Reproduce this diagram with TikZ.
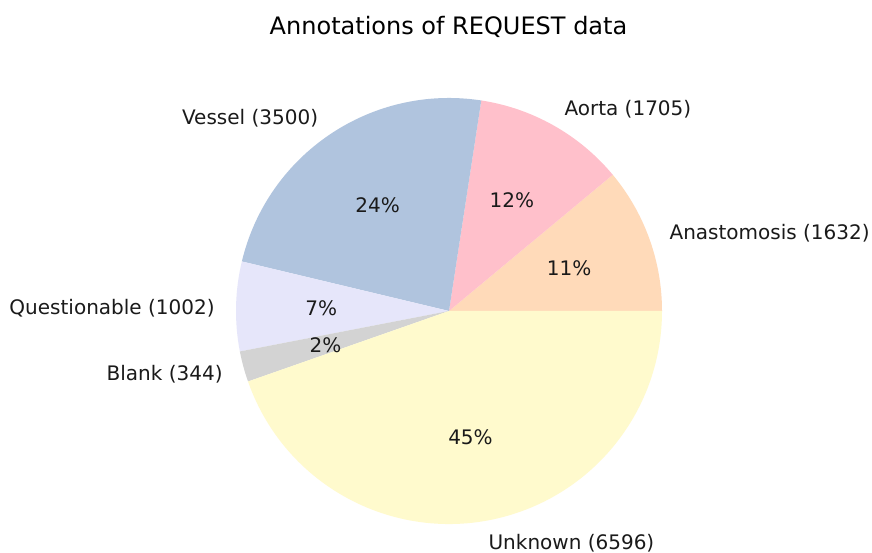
\documentclass[tikz,border=0pt]{standalone}
\usepackage{fontspec}
\setmainfont{DejaVu Sans}
\definecolor{cAna}{HTML}{FFDAB9}
\definecolor{cAor}{HTML}{FFC0CB}
\definecolor{cVes}{HTML}{B0C4DE}
\definecolor{cQue}{HTML}{E6E6FA}
\definecolor{cBla}{HTML}{D3D3D3}
\definecolor{cUnk}{HTML}{FFFACD}
\definecolor{txt}{HTML}{1A1A1A}
\tikzset{
  lbl/.style={inner sep=0pt, text=txt, font=\fontsize{20}{24}\selectfont},
  pct/.style={inner sep=0pt, text=txt, font=\fontsize{20}{24}\selectfont},
  ttl/.style={inner sep=0pt, text=black, font=\fontsize{24}{28}\selectfont}
}
\begin{document}
\begin{tikzpicture}[x=1pt,y=1pt]
\useasboundingbox (0,0) rectangle (872,553);
\fill[white] (0,0) rectangle (872,553);
\coordinate (c) at (449,242);
\def\R{213}
\fill[cAna] (c) -- ++(0:\R) arc[start angle=0, end angle=39.754, radius=\R] -- cycle;
\fill[cAor] (c) -- ++(39.754:\R) arc[start angle=39.754, end angle=81.286, radius=\R] -- cycle;
\fill[cVes] (c) -- ++(81.286:\R) arc[start angle=81.286, end angle=166.542, radius=\R] -- cycle;
\fill[cQue] (c) -- ++(166.542:\R) arc[start angle=166.542, end angle=190.950, radius=\R] -- cycle;
\fill[cBla] (c) -- ++(190.950:\R) arc[start angle=190.950, end angle=199.329, radius=\R] -- cycle;
\fill[cUnk] (c) -- ++(199.329:\R) arc[start angle=199.329, end angle=360, radius=\R] -- cycle;
% labels
\node[lbl, anchor=west] (lAna) at (669.4,319.6) {Anastomosis (1632)};
\node[lbl, anchor=west] (lAor) at (564.3,443.9) {Aorta (1705)};
\node[lbl, anchor=east] (lVes) at (318.3,434.4) {Vessel (3500)};
\node[lbl, anchor=east] (lQue) at (214.8,245.1) {Questionable (1002)};
\node[lbl, anchor=east] (lBla) at (222.8,178.8) {Blank (344)};
\node[lbl, anchor=west] (lUnk) at (488.4,10.2) {Unknown (6596)};
% percentages
\node[pct] (pAna) at (569.2,284.9) {11\%};
\node[pct] (pAor) at (511.9,352.7) {12\%};
\node[pct] (pVes) at (377.7,347.5) {24\%};
\node[pct] (pQue) at (321.2,244.3) {7\%};
\node[pct] (pBla) at (325.6,208.1) {2\%};
\node[pct] (pUnk) at (470.5,115.5) {45\%};
% title
\node[ttl] (title) at (448.5,526) {Annotations of REQUEST data};
\end{tikzpicture}
\end{document}
